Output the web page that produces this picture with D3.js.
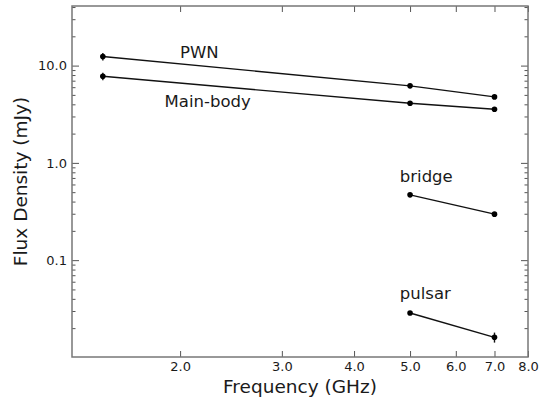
<!DOCTYPE html>
<html>
<head>
<meta charset="utf-8">
<script src="https://cdn.jsdelivr.net/npm/d3@7"></script>
<style>
  body { margin: 0; background: #fff; }
  text { font-family: "DejaVu Sans", sans-serif; fill: #1a1a1a; }
</style>
</head>
<body>
<div id="chart"></div>
<script>
// frequencies in GHz, flux densities in mJy
var pwnFreq = [1.47, 5.0, 7.0];
var pwnFlux = [12.4, 6.19, 4.77];
var pwnErr = [1.1, 0.15, 0.12];

var mainFreq = [1.47, 5.0, 7.0];
var mainFlux = [7.76, 4.10, 3.56];
var mainErr = [0.7, 0.1, 0.08];

var bridgeFreq = [5.0, 7.0];
var bridgeFlux = [0.469, 0.297];
var bridgeErr = [0.01, 0.01];

var pulsarFreq = [5.0, 7.0];
var pulsarFlux = [0.0286, 0.0161];
var pulsarErr = [0.0005, 0.0019];

var xTicks = [2, 3, 4, 5, 6, 7, 8];
var yTicks = [0.1, 1, 10];
var labelNames = ["PWN", "Main-body", "bridge", "pulsar"];
var labelFreq = [2.0, 1.88, 4.8, 4.8];
var labelFlux = [12.1, 3.79, 0.634, 0.0395];

var margin = {top: 6, right: 12, bottom: 43, left: 72},
    width = 540 - margin.left - margin.right,
    height = 400 - margin.top - margin.bottom;

var x = d3.scaleLog().domain([1.3, 8]).range([0, width]);
var y = d3.scaleLog().domain([0.0101, 41]).range([height, 0]);

var svg = d3.select("#chart")
    .append("svg")
    .attr("width", 540)
    .attr("height", 400)
    .append("g")
    .attr("transform", "translate(" + margin.left + "," + margin.top + ")");

var series = [
  {f: pwnFreq, s: pwnFlux, e: pwnErr},
  {f: mainFreq, s: mainFlux, e: mainErr},
  {f: bridgeFreq, s: bridgeFlux, e: bridgeErr},
  {f: pulsarFreq, s: pulsarFlux, e: pulsarErr}
];

var line = d3.line()
    .x(function(d) { return x(d[0]); })
    .y(function(d) { return y(d[1]); });

series.forEach(function(sr) {
  var pts = sr.f.map(function(f, i) { return [f, sr.s[i], sr.e[i]]; });
  svg.append("path")
      .datum(pts)
      .attr("d", line)
      .style("fill", "none")
      .style("stroke", "#111")
      .style("stroke-width", 1.4);
  svg.selectAll(null)
      .data(pts)
      .enter()
      .append("line")
      .attr("x1", function(d) { return x(d[0]); })
      .attr("x2", function(d) { return x(d[0]); })
      .attr("y1", function(d) { return y(d[1] - d[2]); })
      .attr("y2", function(d) { return y(d[1] + d[2]); })
      .style("stroke", "#111")
      .style("stroke-width", 1.4);
  svg.selectAll(null)
      .data(pts)
      .enter()
      .append("circle")
      .attr("cx", function(d) { return x(d[0]); })
      .attr("cy", function(d) { return y(d[1]); })
      .attr("r", 2.8)
      .style("fill", "#000");
});

// series labels
svg.selectAll(null)
    .data(labelNames)
    .enter()
    .append("text")
    .attr("x", function(d, i) { return x(labelFreq[i]); })
    .attr("y", function(d, i) { return y(labelFlux[i]); })
    .style("font-size", "16.5px")
    .text(function(d) { return d; });

// minor y ticks
var yMinor = [];
[0.01, 0.1, 1, 10].forEach(function(dec) {
  for (var k = 2; k <= 9; k++) {
    var v = dec * k;
    if (v > 0.0101 && v < 41) yMinor.push(v);
  }
});

var fmt = function(d) { return d3.format(".1f")(d); };
var tickStroke = "#555";

svg.append("g").attr("transform", "translate(0," + height + ")")
    .call(d3.axisBottom(x).tickValues(xTicks).tickFormat(fmt).tickSizeInner(-6).tickSizeOuter(0).tickPadding(5));
svg.append("g")
    .call(d3.axisTop(x).tickValues(xTicks).tickFormat("").tickSizeInner(-6).tickSizeOuter(0));
svg.append("g")
    .call(d3.axisLeft(y).tickValues(yTicks).tickFormat(fmt).tickSizeInner(-7).tickSizeOuter(0).tickPadding(5));
svg.append("g").attr("transform", "translate(" + width + ",0)")
    .call(d3.axisRight(y).tickValues(yTicks).tickFormat("").tickSizeInner(-7).tickSizeOuter(0));
svg.append("g")
    .call(d3.axisLeft(y).tickValues(yMinor).tickFormat("").tickSizeInner(-3.5).tickSizeOuter(0));
svg.append("g").attr("transform", "translate(" + width + ",0)")
    .call(d3.axisRight(y).tickValues(yMinor).tickFormat("").tickSizeInner(-3.5).tickSizeOuter(0));

svg.selectAll(".domain").remove();
svg.selectAll(".tick line").style("stroke", tickStroke);
svg.selectAll(".tick text").style("font-size", "13px").style("fill", "#1a1a1a")
    .style("font-family", "DejaVu Sans, sans-serif");

svg.append("rect")
    .attr("width", width)
    .attr("height", height)
    .style("fill", "none")
    .style("stroke", "#777")
    .style("stroke-width", 1.5);

svg.append("text")
    .attr("x", width / 2)
    .attr("y", height + 36)
    .attr("text-anchor", "middle")
    .style("font-size", "18.5px")
    .text("Frequency (GHz)");

svg.append("text")
    .attr("transform", "rotate(-90)")
    .attr("x", -height / 2)
    .attr("y", -45)
    .attr("text-anchor", "middle")
    .style("font-size", "18.5px")
    .text("Flux Density (mJy)");
</script>
</body>
</html>
